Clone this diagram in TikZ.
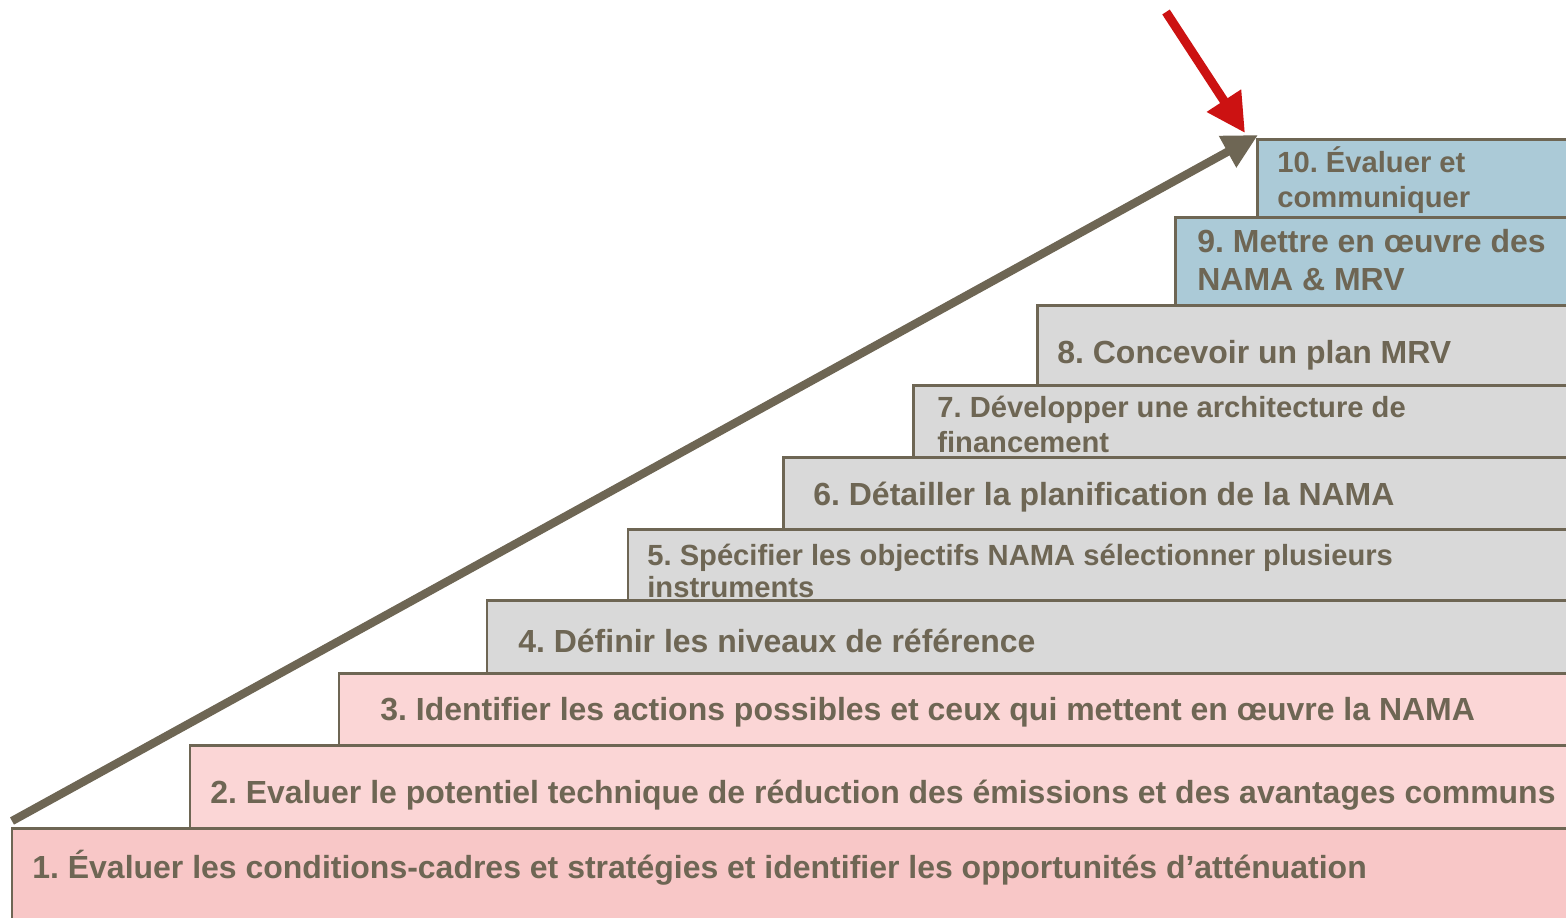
\documentclass[tikz,border=0pt]{standalone}
\usepackage{fontspec}
\setmainfont{Liberation Sans}
\usetikzlibrary{arrows.meta}
\frenchspacing

\definecolor{stepline}{HTML}{6E6654}
\definecolor{pinkA}{HTML}{F8C7C7}
\definecolor{pinkB}{HTML}{FBD6D6}
\definecolor{greyC}{HTML}{D9D9D9}
\definecolor{blueD}{HTML}{ABCAD7}
\definecolor{redE}{HTML}{CC1212}

\begin{document}
\begin{tikzpicture}[x=0.02cm,y=-0.02cm,
  stepbox/.style={draw=stepline,line width=1.7pt},
  steptext/.style={anchor=base west,inner sep=0pt,text=stepline,align=left,font=\bfseries\fontsize{18.2}{21.5}\selectfont},
  smalltext/.style={steptext,font=\bfseries\fontsize{16.6}{19.5}\selectfont}]
  \useasboundingbox (0,0) rectangle (1566,917);
  % staircase, the right side runs off the page
  \begin{scope}
    \clip (0,0) rectangle (1566,917);
    \draw[stepbox,fill=pinkA] (12,828) coordinate (s1) rectangle (1600,940);
    \draw[stepbox,fill=pinkB] (190,745) coordinate (s2) rectangle (1600,828);
    \draw[stepbox,fill=pinkB] (339,673) coordinate (s3) rectangle (1600,745);
    \draw[stepbox,fill=greyC] (487,600) coordinate (s4) rectangle (1600,673);
    \draw[stepbox,fill=greyC] (628,529) coordinate (s5) rectangle (1600,600);
    \draw[stepbox,fill=greyC] (783,457) coordinate (s6) rectangle (1600,529);
    \draw[stepbox,fill=greyC] (913,385) coordinate (s7) rectangle (1600,457);
    \draw[stepbox,fill=greyC] (1037,305) coordinate (s8) rectangle (1600,385);
    \draw[stepbox,fill=blueD] (1175,217) coordinate (s9) rectangle (1600,305);
    \draw[stepbox,fill=blueD] (1257,139) coordinate (s10) rectangle (1600,217);
  \end{scope}
  % labels (base of the last line)
  \node[steptext] (t1) at (32,878) {1. Évaluer les conditions-cadres et stratégies et identifier les opportunités d’atténuation};
  \node[steptext] (t2) at (210,803) {2. Evaluer le potentiel technique de réduction des émissions et des avantages communs};
  \node[steptext] (t3) at (380,720) {3. Identifier les actions possibles et ceux qui mettent en œuvre la NAMA};
  \node[steptext] (t4) at (518,652) {4. Définir les niveaux de référence};
  \node[smalltext,font=\bfseries\fontsize{16.6}{18}\selectfont] (t5) at (647,597) {5. Spécifier les objectifs NAMA sélectionner plusieurs\\instruments};
  \node[steptext] (t6) at (813,505) {6. Détailler la planification de la NAMA};
  \node[smalltext] (t7) at (937,452) {7. Développer une architecture de\\financement};
  \node[steptext] (t8) at (1057,363) {8. Concevoir un plan MRV};
  \node[steptext] (t9) at (1197,290) {9. Mettre en œuvre des\\NAMA \& MRV};
  \node[smalltext] (t10) at (1277,207) {10. Évaluer et\\communiquer};
  % arrows
  \coordinate (redtail) at (1166,12);
  \draw[stepline,line width=4.7pt,-{Triangle[length=19.8pt,width=19.3pt]}] ([shift={(0,-7)}]s1) -- ([shift={(1,-4)}]s10);
  \draw[redE,line width=5.1pt,-{Triangle[length=22pt,width=22pt]}] (redtail) -- ([shift={(-12,-6)}]s10);
\end{tikzpicture}
\end{document}
